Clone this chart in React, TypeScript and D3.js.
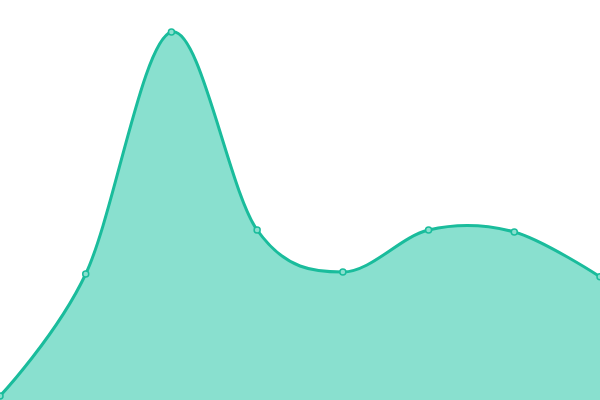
import { useEffect, useRef } from "react";
import * as d3 from "d3";

// x positions are just the index of each point
const labels = ["1", "2", "3", "4", "5", "6", "7", "8"];
const values = [1, 31.5, 92, 42.5, 32, 42.5, 42, 30.8];

const lineColor = "#1abc9c";
const areaColor = "#89e0cf";

export default function App() {
  const svgRef = useRef<SVGSVGElement>(null);
  const width = 600;
  const height = 400;

  useEffect(() => {
    const svg = d3.select(svgRef.current);
    svg.selectAll("*").remove();

    const x = d3.scalePoint<string>().domain(labels).range([0, width]);
    const y = d3.scaleLinear().domain([0, 100]).range([height, 0]);

    const area = d3
      .area<number>()
      .x((_, i) => x(labels[i])!)
      .y0(height)
      .y1((d) => y(d))
      .curve(d3.curveCardinal);

    const line = d3
      .line<number>()
      .x((_, i) => x(labels[i])!)
      .y((d) => y(d))
      .curve(d3.curveCardinal);

    svg.append("path").datum(values).attr("fill", areaColor).attr("d", area);

    svg
      .append("path")
      .datum(values)
      .attr("fill", "none")
      .attr("stroke", lineColor)
      .attr("stroke-width", 3)
      .attr("d", line);

    svg
      .selectAll("circle")
      .data(values)
      .join("circle")
      .attr("cx", (_, i) => x(labels[i])!)
      .attr("cy", (d) => y(d))
      .attr("r", 3)
      .attr("fill", areaColor)
      .attr("stroke", lineColor)
      .attr("stroke-width", 1.5);
  }, []);

  return (
    <svg
      ref={svgRef}
      width={width}
      height={height}
      style={{ position: "fixed", top: 0, left: 0, background: "#fff" }}
    />
  );
}
